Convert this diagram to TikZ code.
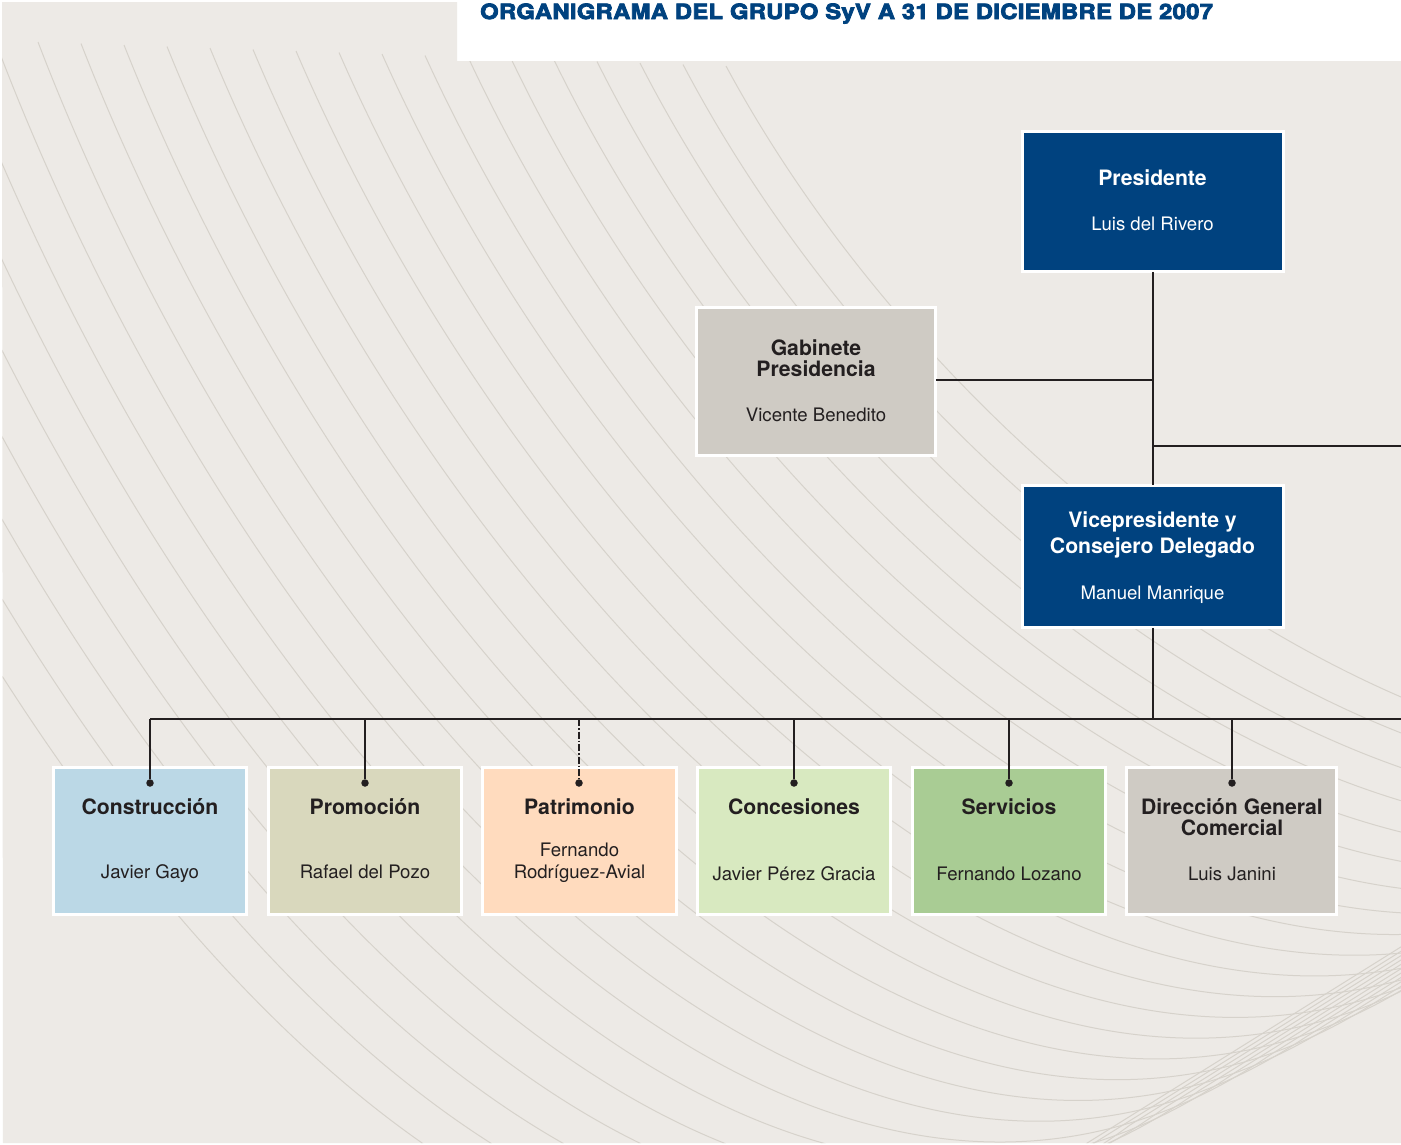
\documentclass[tikz,border=0pt]{standalone}
\usepackage{fontspec}
\setmainfont{TeX Gyre Heros}
\newfontfamily\titlefont[FakeBold=4,FakeStretch=1.13,LetterSpace=1.7]{TeX Gyre Heros Bold}
\definecolor{panelbg}{HTML}{EDEAE6}
\definecolor{curvecol}{HTML}{D6D2CB}
\definecolor{navy}{HTML}{00427F}
\definecolor{ink}{HTML}{231F20}
\definecolor{greybox}{HTML}{CFCBC4}
\definecolor{bluebox}{HTML}{BBD8E6}
\definecolor{khakibox}{HTML}{D9D8BD}
\definecolor{peachbox}{HTML}{FFDBBE}
\definecolor{lightgreenbox}{HTML}{D8E9C0}
\definecolor{greenbox}{HTML}{A9CC94}
\tikzset{
  orgbox/.style={draw=white,line width=2.8pt,inner sep=0pt,outer sep=0pt},
  roletext/.style={anchor=base,inner sep=0pt,text=ink,font=\fontsize{21.2}{24}\selectfont\bfseries},
  nametext/.style={anchor=base,inner sep=0pt,text=ink,font=\fontsize{18.6}{22}\selectfont},
  wrole/.style={roletext,text=white},
  wname/.style={nametext,text=white},
  link/.style={draw=ink,line width=1.2pt},
  linkdash/.style={draw=ink,line width=1.2pt,dash pattern=on 7pt off 2pt on 1.5pt off 2pt},
  pin/.style={circle,fill=ink,inner sep=0pt,minimum size=7.5pt},
  bgcurve/.style={draw=curvecol,line width=1pt}
}
\begin{document}
\begin{tikzpicture}[x=1pt,y=-1pt]
\useasboundingbox (0,0) rectangle (1401,1144);
\fill[white] (0,0) rectangle (1401,1144);
\fill[panelbg] (2,2) -- (457,2) -- (457,61) -- (1401,61) -- (1401,1143) -- (3,1143) -- cycle;
\begin{scope}
\clip (2,2) -- (457,2) -- (457,61) -- (1401,61) -- (1401,1143) -- (3,1143) -- cycle;
\foreach \i in {-8,...,16}{
  \pgfmathsetmacro{\t}{(\i+8)/24}
  \pgfmathsetmacro{\ax}{38+43*\i}
  \pgfmathsetmacro{\ay}{42+1.5*\i}
  \pgfmathsetmacro{\bx}{-60+\t*1020}
  \pgfmathsetmacro{\by}{760-\t*260}
  \pgfmathsetmacro{\cx}{540+\t*960}
  \pgfmathsetmacro{\cy}{1560-\t*680}
  \pgfmathsetmacro{\dx}{1060+\t*840}
  \pgfmathsetmacro{\dy}{1160-\t*420}
  \draw[bgcurve] (\ax,\ay) .. controls (\bx,\by) and (\cx,\cy) .. (\dx,\dy) -- ++(400,-250);
}
\end{scope}

\node[anchor=base west,inner sep=0pt,text=navy,font=\fontsize{21}{24}\titlefont] (title) at (480,19) {ORGANIGRAMA DEL GRUPO SyV A 31 DE DICIEMBRE DE 2007};

\node[orgbox,fill=navy,minimum width=260.5pt,minimum height=140.5pt] (pres) at (1153,201.5) {};
\node[orgbox,fill=greybox,minimum width=239.5pt,minimum height=148.5pt] (gab) at (816,381.5) {};
\node[orgbox,fill=navy,minimum width=260.5pt,minimum height=142.5pt] (vice) at (1153,556.5) {};
\node[orgbox,fill=bluebox,minimum width=193.5pt,minimum height=147.5pt] (cons) at (150,841) {};
\node[orgbox,fill=khakibox,minimum width=193.5pt,minimum height=147.5pt] (prom) at (365,841) {};
\node[orgbox,fill=peachbox,minimum width=193.5pt,minimum height=147.5pt] (patr) at (579.5,841) {};
\node[orgbox,fill=lightgreenbox,minimum width=193.5pt,minimum height=147.5pt] (conc) at (794,841) {};
\node[orgbox,fill=greenbox,minimum width=193.5pt,minimum height=147.5pt] (serv) at (1009,841) {};
\node[orgbox,fill=greybox,minimum width=210.5pt,minimum height=147.5pt] (dirc) at (1231.5,841) {};

\node[wrole] (t1) at (1152.5,185) {Presidente};
\node[wname] (n1) at (1152.5,230) {Luis del Rivero};
\node[roletext] (t2a) at (816,355) {Gabinete};
\node[roletext] (t2b) at (816,376) {Presidencia};
\node[nametext] (n2) at (816,421) {Vicente Benedito};
\node[wrole] (t3a) at (1152.5,527) {Vicepresidente y};
\node[wrole] (t3b) at (1152.5,553) {Consejero Delegado};
\node[wname] (n3) at (1152.5,599) {Manuel Manrique};
\node[roletext] (t4) at (150,814) {Construcción};
\node[nametext] (n4) at (150,878) {Javier Gayo};
\node[roletext] (t5) at (365,814) {Promoción};
\node[nametext] (n5) at (365,878) {Rafael del Pozo};
\node[roletext] (t6) at (579.5,814) {Patrimonio};
\node[nametext] (n6a) at (579.5,856) {Fernando};
\node[nametext] (n6b) at (579.5,878.5) {Rodríguez-Avial};
\node[roletext] (t7) at (794,814) {Concesiones};
\node[nametext] (n7) at (794,880) {Javier Pérez Gracia};
\node[roletext] (t8) at (1009,814) {Servicios};
\node[nametext] (n8) at (1009,880) {Fernando Lozano};
\node[roletext] (t9a) at (1232,814) {Dirección General};
\node[roletext] (t9b) at (1232,835) {Comercial};
\node[nametext] (n9) at (1232,880) {Luis Janini};

\coordinate (bus0) at (150,719);
\coordinate (busR) at (1401,719);
\coordinate (gabJ) at (1153,380);
\coordinate (sideJ) at (1153,446);
\coordinate (sideR) at (1401,446);
\coordinate (b2) at (365,719);
\coordinate (b3) at (579,719);
\coordinate (b4) at (794,719);
\coordinate (b5) at (1009,719);
\coordinate (b6) at (1232,719);
\coordinate (bv) at (1153,719);
\node[pin] (p1) at (150,783) {};
\node[pin] (p2) at (365,783) {};
\node[pin] (p3) at (579,783) {};
\node[pin] (p4) at (794,783) {};
\node[pin] (p5) at (1009,783) {};
\node[pin] (p6) at (1232,783) {};

\draw[link] (pres.south) -- (vice.north);
\draw[link] (gab.east |- gabJ) -- (gabJ);
\draw[link] (sideJ) -- (sideR);
\draw[link] (vice.south) -- (bv);
\draw[link] (bus0) -- (busR);
\draw[link] (bus0) -- (p1);
\draw[link] (b2) -- (p2);
\draw[linkdash] (b3) -- (p3);
\draw[link] (b4) -- (p4);
\draw[link] (b5) -- (p5);
\draw[link] (b6) -- (p6);
\end{tikzpicture}
\end{document}
